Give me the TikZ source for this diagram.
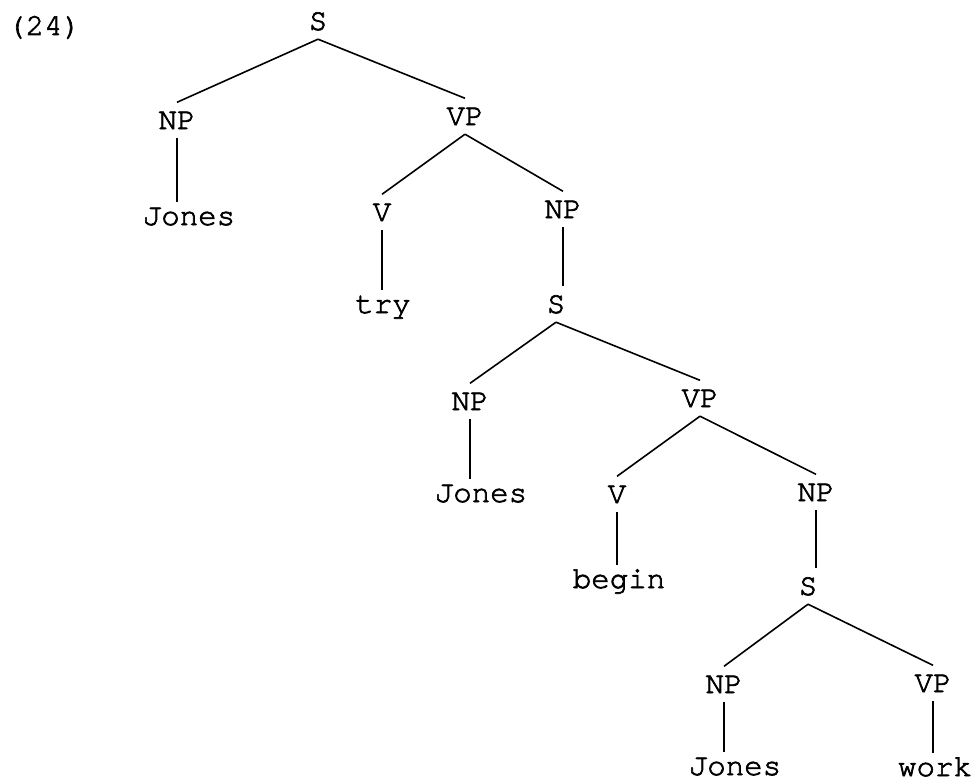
\documentclass[tikz,border=0pt]{standalone}
\usepackage{fontspec}
\newfontfamily\tw[FakeBold=2.2]{texgyrecursor-regular.otf}
\begin{document}
\begin{tikzpicture}[x=1pt,y=-1pt,
  cat/.style={font=\tw\fontsize{30.8}{31}\selectfont, inner xsep=0pt, inner ysep=9pt,
    text height=17.5pt, text depth=0pt, anchor=base},
  word/.style={cat, inner ysep=5pt},
  edge/.style={line width=1.6pt, black}]
\useasboundingbox (0,0) rectangle (979,781);
\node[cat, anchor=base west] (ex) at (7,35) {(24)};
\node[cat] (s1) at (318,30) {S};
\node[cat] (np1) at (177,129) {NP};
\node[cat] (vp1) at (465,125) {VP};
\node[word] (jones1) at (189,225) {Jones};
\node[cat] (v1) at (382,221) {V};
\node[cat] (np2) at (563,218) {NP};
\node[word] (try) at (383,313) {try};
\node[cat] (s2) at (556,313) {S};
\node[cat] (np3) at (470,410) {NP};
\node[cat] (vp2) at (700,407) {VP};
\node[word] (jones2) at (481,502) {Jones};
\node[cat] (v2) at (617,503) {V};
\node[cat] (np4) at (816,501) {NP};
\node[word] (begin) at (619,588) {begin};
\node[cat] (s3) at (808,595) {S};
\node[cat] (np5) at (724,693) {NP};
\node[cat] (vp3) at (933,692) {VP};
\node[word] (jones3) at (735,775) {Jones};
\node[word] (work) at (935,776) {work};
\begin{scope}[edge]
\draw (s1.south) -- (np1.north);
\draw (s1.south) -- (vp1.north);
\draw (np1.south) -- (np1.south |- jones1.north);
\draw (vp1.south) -- (v1.north);
\draw (vp1.south) -- (np2.north);
\draw (v1.south) -- (v1.south |- try.north);
\draw (np2.south) -- (np2.south |- s2.north);
\draw (s2.south) -- (np3.north);
\draw (s2.south) -- (vp2.north);
\draw (np3.south) -- (np3.south |- jones2.north);
\draw (vp2.south) -- (v2.north);
\draw (vp2.south) -- (np4.north);
\draw (v2.south) -- (v2.south |- begin.north);
\draw (np4.south) -- (np4.south |- s3.north);
\draw (s3.south) -- (np5.north);
\draw (s3.south) -- (vp3.north);
\draw (np5.south) -- (np5.south |- jones3.north);
\draw (vp3.south) -- (vp3.south |- work.north);
\end{scope}
\end{tikzpicture}
\end{document}
